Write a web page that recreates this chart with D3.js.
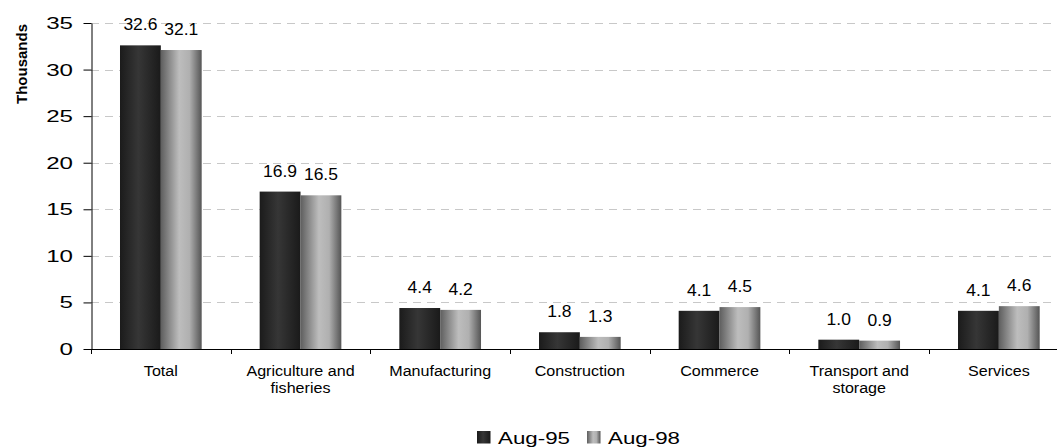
<!DOCTYPE html>
<html><head><meta charset="utf-8">
<script src="https://cdn.jsdelivr.net/npm/d3@7"></script>
<style>body{margin:0;background:#fff}svg{display:block;font-family:"Liberation Sans",Arial,sans-serif}</style>
</head><body>
<svg id="c" width="1057" height="448"></svg>
<script>
const categories = ["Total", "Agriculture and fisheries", "Manufacturing", "Construction", "Commerce", "Transport and storage", "Services"];
const categoryLines = [["Total"], ["Agriculture and", "fisheries"], ["Manufacturing"], ["Construction"], ["Commerce"], ["Transport and", "storage"], ["Services"]];
const seriesNames = ["Aug-95", "Aug-98"];
const aug95 = [32.6, 16.9, 4.4, 1.8, 4.1, 1.0, 4.1];
const aug98 = [32.1, 16.5, 4.2, 1.3, 4.5, 0.9, 4.6];
const yTicks = [0, 5, 10, 15, 20, 25, 30, 35];

const svg = d3.select("#c");
const x0 = 91, plotRight = 91 + 7 * 139.67, yTop = 23, yBottom = 349;
const x = d3.scaleBand().domain(categories).range([x0, plotRight]).paddingInner(0).paddingOuter(0);
const y = d3.scaleLinear().domain([0, 35]).range([yBottom, yTop]);

// stretched text helper
function stext(parent, tx, ty, str, size, sx, anchor, weight) {
  return parent.append("text")
    .attr("transform", `translate(${tx},${ty}) scale(${sx},1)`)
    .attr("text-anchor", anchor || "start")
    .attr("font-size", size).attr("font-weight", weight || "normal")
    .attr("fill", "#000").text(str);
}

const defs = svg.append("defs");
function grad(id, stops) {
  const g = defs.append("linearGradient").attr("id", id).attr("x1", "0").attr("x2", "1").attr("y1", "0").attr("y2", "0");
  stops.forEach(([o, c]) => g.append("stop").attr("offset", o).attr("stop-color", c));
}
grad("g95", [[0, "#1b1b1b"], [0.45, "#363636"], [1, "#1a1a1a"]]);
grad("g98", [[0, "#5e5e5e"], [0.45, "#bdbdbd"], [0.7, "#b0b0b0"], [1, "#555555"]]);
const fills = ["url(#g95)", "url(#g98)"];

// gridlines
svg.append("g").selectAll("line").data(yTicks.filter(d => d > 0)).join("line")
  .attr("x1", x0).attr("x2", 1057).attr("y1", d => Math.round(y(d)) + 0.5).attr("y2", d => Math.round(y(d)) + 0.5)
  .attr("stroke", "#c8c8c8").attr("stroke-dasharray", "8,6").attr("stroke-width", 1);

// y axis
const yAxis = svg.append("g").attr("transform", `translate(${x0 + 0.5},0)`)
  .call(d3.axisLeft(y).tickValues(yTicks).tickSize(8).tickSizeOuter(0).tickFormat(""));
yAxis.select(".domain").attr("stroke", "#000");
yAxis.selectAll(".tick line").attr("stroke", "#000");
const yl = svg.append("g");
yTicks.forEach(t => stext(yl, 73, y(t) + 6, String(t), 17, 1.42, "end"));

// x axis baseline & ticks
svg.append("line").attr("x1", x0).attr("x2", 1057).attr("y1", yBottom + 0.5).attr("y2", yBottom + 0.5).attr("stroke", "#000");
const bounds = d3.range(categories.length + 1).map(i => x0 + i * x.bandwidth());
svg.append("g").selectAll("line").data(bounds).join("line")
  .attr("x1", d => Math.round(d) + 0.5).attr("x2", d => Math.round(d) + 0.5)
  .attr("y1", yBottom).attr("y2", yBottom + 5).attr("stroke", "#000");

// bars
const inner = d3.scaleBand().domain(seriesNames).range([0, x.bandwidth()]).paddingOuter(0.71).paddingInner(0);
const data = [aug95, aug98];
data.forEach((vals, si) => {
  const g = svg.append("g");
  g.selectAll("rect").data(vals).join("rect")
    .attr("x", (d, i) => x(categories[i]) + inner(seriesNames[si]))
    .attr("width", inner.bandwidth())
    .attr("y", d => y(d)).attr("height", d => yBottom - y(d))
    .attr("fill", fills[si]);
  vals.forEach((d, i) => {
    stext(g, x(categories[i]) + inner(seriesNames[si]) + inner.bandwidth() / 2, y(d) - 15, d.toFixed(1), 16.5, 1.06, "middle");
  });
});

// category labels
const cl = svg.append("g");
categoryLines.forEach((lines, i) => {
  lines.forEach((ln, j) => {
    stext(cl, x(categories[i]) + x.bandwidth() / 2, 375.5 + j * 17, ln, 14.5, 1.11, "middle");
  });
});

// y title
svg.append("text").attr("transform", "translate(27,64) rotate(-90)").attr("text-anchor", "middle")
  .attr("font-size", 15).attr("font-weight", "bold").attr("fill", "#000").text("Thousands");

// legend
const lg = svg.append("g");
const legX = [477, 587];
seriesNames.forEach((s, i) => {
  lg.append("rect").attr("x", legX[i]).attr("y", 431).attr("width", 13.5).attr("height", 12.5).attr("fill", fills[i]);
  stext(lg, legX[i] + 21, 443.5, s, 16.3, 1.37, "start");
});
</script>
</body></html>
